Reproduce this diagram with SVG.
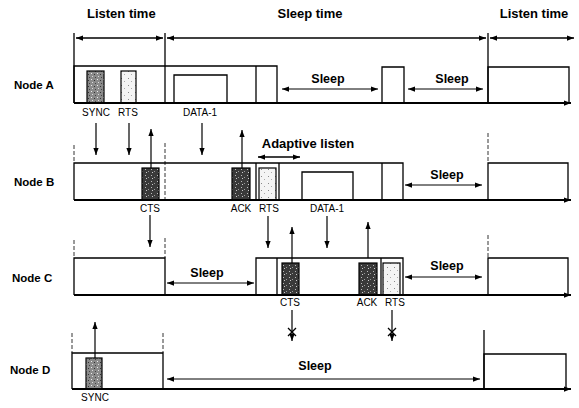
<svg xmlns="http://www.w3.org/2000/svg" width="579" height="408" viewBox="0 0 579 408">
<style>
.ln{stroke:#000;stroke-width:1.3;fill:none}
.ax{stroke:#000;stroke-width:2;fill:none}
.dl{stroke:#000;stroke-width:0.8;fill:none;stroke-dasharray:4 2}
.ar{stroke:#000;stroke-width:1.2;fill:none;marker-end:url(#ah)}
.ar2{stroke:#000;stroke-width:1;fill:none;marker-end:url(#ah);marker-start:url(#ah)}
.bx{stroke:#000;stroke-width:1.3;fill:#fff}
.dk{stroke:#000;stroke-width:1.2;fill:url(#pdark)}
.md{stroke:#000;stroke-width:1.2;fill:url(#pmid)}
.lt{stroke:#000;stroke-width:1.2;fill:url(#plight)}
.hd{font-family:"Liberation Sans",Arial,sans-serif;font-weight:bold;font-size:13px;fill:#000}
.nd{font-family:"Liberation Sans",Arial,sans-serif;font-weight:bold;font-size:11.5px;fill:#000}
.sl{font-family:"Liberation Sans",Arial,sans-serif;font-weight:bold;font-size:12.5px;fill:#000;text-anchor:middle}
.lb{font-family:"Liberation Sans",Arial,sans-serif;font-size:10px;fill:#000;text-anchor:middle}
</style>
<defs>
<marker id="ah" viewBox="0 0 8 6" refX="8" refY="3" markerWidth="7" markerHeight="5.5" markerUnits="userSpaceOnUse" orient="auto-start-reverse">
<path d="M0,0 L8,3 L0,6 z" fill="#000"/>
</marker>
<pattern id="pdark" width="6" height="6" patternUnits="userSpaceOnUse">
<rect width="6" height="6" fill="#3a3a3a"/>
<rect x="1" y="1" width="1" height="1" fill="#bbb"/>
<rect x="4" y="3" width="1" height="1" fill="#999"/>
<rect x="2" y="4" width="1" height="1" fill="#ccc"/>
</pattern>
<pattern id="pmid" width="6" height="6" patternUnits="userSpaceOnUse">
<rect width="6" height="6" fill="#8a8a8a"/>
<rect x="1" y="1" width="1" height="1" fill="#eee"/>
<rect x="4" y="2" width="1" height="1" fill="#333"/>
<rect x="2" y="4" width="1" height="1" fill="#ddd"/>
<rect x="5" y="5" width="1" height="1" fill="#444"/>
</pattern>
<pattern id="plight" width="7" height="7" patternUnits="userSpaceOnUse">
<rect width="7" height="7" fill="#f4f4f4"/>
<rect x="2" y="1" width="1" height="1" fill="#888"/>
<rect x="5" y="4" width="1" height="1" fill="#aaa"/>
</pattern>
</defs>
<rect width="579" height="408" fill="#fff"/>

<g id="timeline">
<text class="hd" x="87" y="18">Listen time</text>
<text class="hd" x="310" y="18" text-anchor="middle">Sleep time</text>
<text class="hd" x="534" y="18" text-anchor="middle">Listen time</text>
<line class="ln" x1="74" y1="33" x2="74" y2="103"/>
<line class="ln" x1="165" y1="33" x2="165" y2="103"/>
<line class="ln" x1="488" y1="33" x2="488" y2="103"/>
<line class="ar2" x1="76" y1="38" x2="163" y2="38" style="stroke-width:1.5"/>
<line class="ar2" x1="167" y1="38" x2="486" y2="38" style="stroke-width:1.5"/>
<line class="ar2" x1="490" y1="38" x2="574" y2="38" style="stroke-width:1.5"/>
</g>

<g id="node-a">
<text class="nd" x="14" y="89">Node A</text>
<path class="ln" d="M74 103 V66 H277 V103"/>
<line class="ln" x1="256" y1="66" x2="256" y2="103"/>
<rect class="md" x="87" y="71" width="17" height="32"/>
<rect class="lt" x="121" y="71" width="15" height="32"/>
<path class="ln" d="M174 103 V75 H227 V103"/>
<line class="ar2" x1="282" y1="89" x2="378" y2="89"/>
<text class="sl" x="328" y="83">Sleep</text>
<path class="ln" d="M382 103 V67 H404 V103"/>
<line class="ar2" x1="408" y1="89" x2="483" y2="89"/>
<text class="sl" x="452" y="83">Sleep</text>
<path class="ln" d="M488 103 V67 H569 V103"/>
<line class="ax" x1="74" y1="103" x2="571" y2="103" marker-end="url(#ah)"/>
<text class="lb" x="96" y="116">SYNC</text>
<text class="lb" x="128" y="116">RTS</text>
<text class="lb" x="200" y="116">DATA-1</text>
</g>

<g id="node-b">
<text class="nd" x="14" y="186">Node B</text>
<line class="dl" x1="74" y1="145" x2="74" y2="163"/>
<path class="ln" d="M74 200 V163 H403 V200"/>
<line class="dl" x1="165" y1="143" x2="165" y2="200"/>
<line class="ln" x1="256" y1="163" x2="256" y2="200"/>
<line class="ln" x1="279" y1="163" x2="279" y2="200"/>
<line class="ln" x1="382" y1="163" x2="382" y2="200"/>
<rect class="dk" x="142" y="168" width="17" height="32"/>
<rect class="dk" x="232" y="168" width="18" height="32"/>
<rect class="lt" x="259" y="168" width="17" height="32"/>
<path class="ln" d="M302 200 V172 H353 V200"/>
<line class="ar2" x1="258" y1="157" x2="300" y2="157" style="stroke-width:1.5"/>
<text class="hd" x="308" y="148" text-anchor="middle">Adaptive listen</text>
<line class="ar2" x1="405" y1="185" x2="482" y2="185"/>
<text class="sl" x="447" y="179">Sleep</text>
<line class="dl" x1="488" y1="133" x2="488" y2="163"/>
<path class="ln" d="M488 200 V163 H568 V200"/>
<line class="ax" x1="74" y1="200" x2="571" y2="200" marker-end="url(#ah)"/>
<text class="lb" x="150" y="212">CTS</text>
<text class="lb" x="241" y="212">ACK</text>
<text class="lb" x="269" y="212">RTS</text>
<text class="lb" x="327" y="212">DATA-1</text>
</g>

<g id="node-c">
<text class="nd" x="12" y="282">Node C</text>
<line class="dl" x1="74" y1="240" x2="74" y2="258"/>
<line class="dl" x1="165" y1="238" x2="165" y2="258"/>
<path class="ln" d="M74 295 V258 H165 V295"/>
<line class="ar2" x1="167" y1="283" x2="254" y2="283"/>
<text class="sl" x="207" y="277">Sleep</text>
<path class="ln" d="M256 295 V258 H403 V295"/>
<line class="ln" x1="277" y1="258" x2="277" y2="295"/>
<line class="ln" x1="381" y1="258" x2="381" y2="295"/>
<rect class="dk" x="282" y="263" width="17" height="32"/>
<rect class="dk" x="359" y="263" width="18" height="32"/>
<rect class="lt" x="383" y="263" width="17" height="32"/>
<line class="ar2" x1="405" y1="277" x2="482" y2="277"/>
<text class="sl" x="447" y="270">Sleep</text>
<line class="dl" x1="488" y1="235" x2="488" y2="258"/>
<path class="ln" d="M488 295 V258 H568 V295"/>
<line class="ax" x1="74" y1="295" x2="571" y2="295" marker-end="url(#ah)"/>
<text class="lb" x="290" y="306">CTS</text>
<text class="lb" x="367" y="306">ACK</text>
<text class="lb" x="395" y="306">RTS</text>
</g>

<g id="node-d">
<text class="nd" x="10" y="374">Node D</text>
<line class="dl" x1="72" y1="333" x2="72" y2="353"/>
<line class="dl" x1="163" y1="333" x2="163" y2="353"/>
<path class="ln" d="M72 389 V353 H163 V389"/>
<rect class="md" x="86" y="358" width="16" height="31"/>
<line class="ar2" x1="167" y1="379" x2="480" y2="379"/>
<text class="sl" x="315" y="370">Sleep</text>
<line class="ln" x1="484" y1="330" x2="484" y2="389"/>
<path class="ln" d="M484 389 V354 H566 V389"/>
<line class="ax" x1="72" y1="389" x2="571" y2="389" marker-end="url(#ah)"/>
<text class="lb" x="95" y="401">SYNC</text>
</g>

<g id="connectors">
<line class="ar" x1="96" y1="123" x2="96" y2="155"/>
<line class="ar" x1="129" y1="123" x2="129" y2="155"/>
<line class="ar" x1="151" y1="168" x2="151" y2="129"/>
<line class="ar" x1="202" y1="123" x2="202" y2="155"/>
<line class="ar" x1="242" y1="168" x2="242" y2="130"/>
<line class="ar" x1="150" y1="215" x2="150" y2="247"/>
<line class="ar" x1="268" y1="216" x2="268" y2="248"/>
<line class="ar" x1="327" y1="216" x2="327" y2="248"/>
<line class="ar" x1="292" y1="263" x2="292" y2="227"/>
<line class="ar" x1="368" y1="258" x2="368" y2="222"/>
<line class="ar" x1="292" y1="310" x2="292" y2="341"/>
<path class="ln" d="M288 328 L296 336 M296 328 L288 336"/>
<line class="ar" x1="392" y1="310" x2="392" y2="341"/>
<path class="ln" d="M388 328 L396 336 M396 328 L388 336"/>
<line class="ar" x1="95" y1="358" x2="95" y2="322"/>
</g>
</svg>
